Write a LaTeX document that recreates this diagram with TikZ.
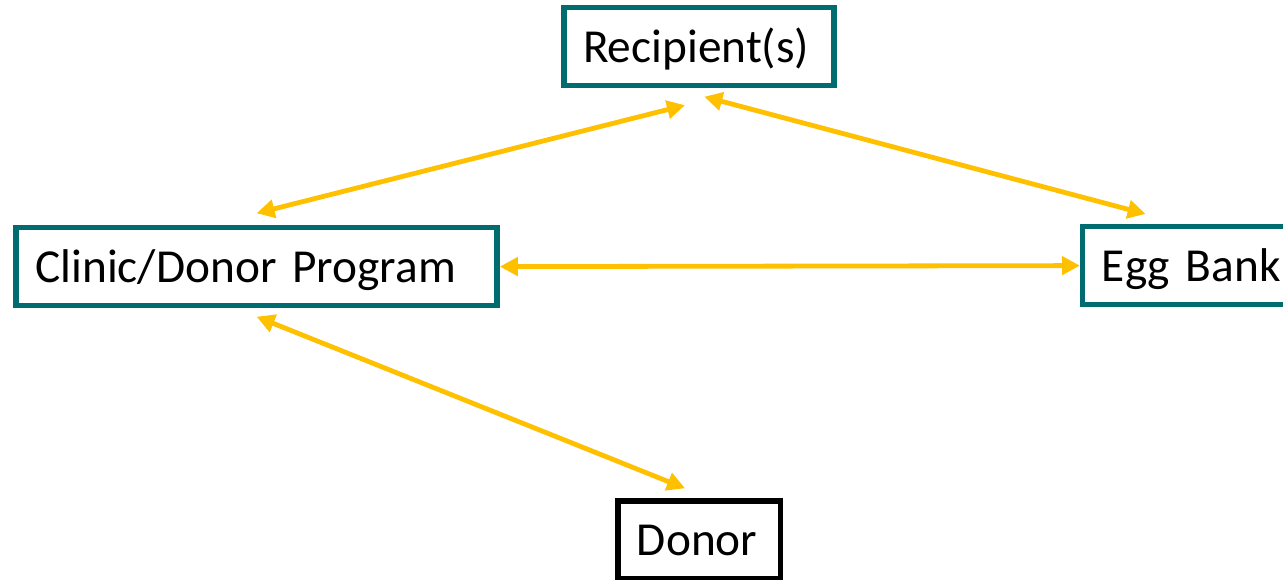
\documentclass[tikz,border=0pt]{standalone}
\usepackage{fontspec}
\setmainfont{Carlito}
\usepackage{xcolor}
\usepackage{tikz}
\usetikzlibrary{arrows.meta, positioning}

\definecolor{boxteal}{RGB}{0,108,112}
\definecolor{linkyellow}{RGB}{255,192,0}

\begin{document}
\begin{tikzpicture}[x=0.75pt, y=-0.75pt,
    party/.style={draw=boxteal, line width=4.1pt, fill=white, align=left,
        inner xsep=14.4pt, inner ysep=0pt, minimum height=58.3pt,
        text height=24pt, text depth=0pt,
        font=\fontsize{35.5pt}{43pt}\selectfont},
    link/.style={draw=linkyellow, line width=3.6pt,
        {Triangle[length=13.5pt,width=13.5pt]}-{Triangle[length=13.5pt,width=13.5pt]}}]
    \useasboundingbox (0,0) rectangle (1283,579);
    % Boxes
    \node[party, text width=174pt] (recipient) at (699,46.6) {Recipient(s)};
    \node[party, text width=331.9pt] (clinic) at (256.6,266.6) {Clinic/Donor Program};
    \node[party, text width=150pt, anchor=west] (eggbank) at (1080,265.6) {Egg Bank};
    \node[party, draw=black, text width=93.2pt] (donor) at (699.1,539.9) {Donor};
    % Arrows
    \draw[link] ([shift={(0,-11.75)}]clinic.north) -- ([shift={(-14,17)}]recipient.south);
    \draw[link] ([shift={(5.3,8.5)}]recipient.south) -- ([shift={(65.7,-10)}]eggbank.north west);
    \draw[link] (clinic.east) -- (eggbank.west);
    \draw[link] ([shift={(0,8.5)}]clinic.south) -- ([shift={(-14,-10)}]donor.north);
\end{tikzpicture}
\end{document}
